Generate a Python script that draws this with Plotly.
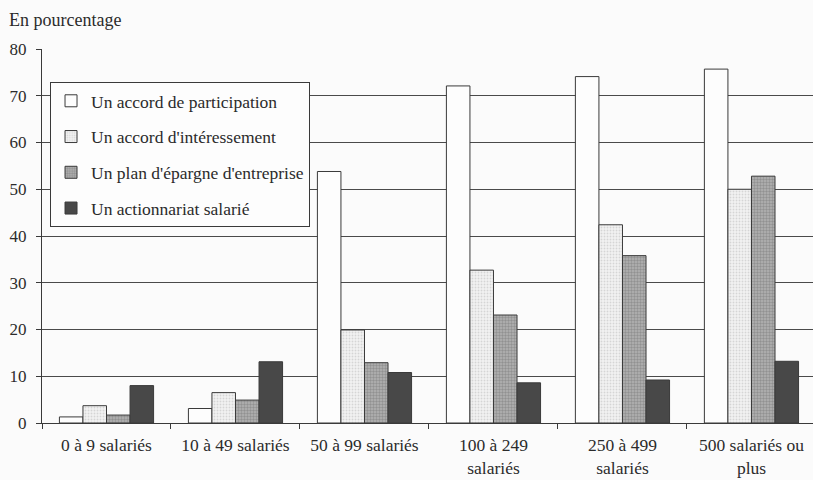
import plotly.graph_objects as go

categories = ["0 à 9 salariés", "10 à 49 salariés", "50 à 99 salariés",
              "100 à 249<br>salariés", "250 à 499<br>salariés", "500 salariés ou<br>plus"]

participation = [1.3, 3.1, 53.8, 72.1, 74.1, 75.7]
interessement = [3.7, 6.5, 19.9, 32.7, 42.4, 50.0]
plan_epargne = [1.7, 4.9, 12.9, 23.1, 35.8, 52.8]
actionnariat = [8.0, 13.1, 10.8, 8.6, 9.2, 13.2]

series_names = ["Un accord de participation", "Un accord d'intéressement",
                "Un plan d'épargne d'entreprise", "Un actionnariat salarié"]
series_values = [participation, interessement, plan_epargne, actionnariat]

FONT = "'Liberation Serif', 'Times New Roman', 'DejaVu Serif', serif"
INK = "#2b2b2b"
BG = "#fbfbfb"

styles = [
    dict(color="#fdfdfd"),
    dict(color="#ececec", pattern=dict(shape=".", fgcolor="#b8b8b8", bgcolor="#f2f2f2", size=3, solidity=0.3)),
    dict(color="#9c9c9c", pattern=dict(shape=".", fgcolor="#6e6e6e", bgcolor="#b4b4b4", size=3, solidity=0.5)),
    dict(color="#484848"),
]

fig = go.Figure()
for i, (name, vals, st) in enumerate(zip(series_names, series_values, styles)):
    fig.add_trace(go.Bar(
        x=categories, y=vals, name=name, legendgroup=f"g{i}",
        marker=dict(line=dict(color="#3a3a3a", width=1), **st),
    ))

fig.update_layout(
    width=813, height=480,
    paper_bgcolor=BG, plot_bgcolor=BG,
    margin=dict(l=42, r=0, t=49, b=57),
    barmode="group", bargap=0.27, bargroupgap=0,
    font=dict(family=FONT, size=18, color=INK),
    showlegend=True,
    legend=dict(
        x=0.0104, y=0.912, xanchor="left", yanchor="top",
        bgcolor="#fdfdfd", bordercolor="#3a3a3a", borderwidth=1,
        font=dict(family=FONT, size=17.5, color=INK),
        tracegroupgap=10, traceorder="grouped", itemwidth=30,
    ),
    xaxis=dict(
        range=[-0.5, 5.477], tickson="boundaries", ticks="outside", ticklen=5,
        tickcolor="#3a3a3a", showline=True, linecolor="#3a3a3a", linewidth=1,
        showgrid=False, ticklabelstandoff=6, automargin=False,
        tickfont=dict(family=FONT, size=17.5, color=INK),
    ),
    yaxis=dict(
        range=[0, 80], dtick=10, ticks="outside", ticklen=5, tickcolor="#3a3a3a",
        showline=True, linecolor="#3a3a3a", linewidth=1,
        showgrid=True, gridcolor="#4a4a4a", gridwidth=1, zeroline=False,
        ticklabelstandoff=6, automargin=False,
        tickfont=dict(family=FONT, size=17, color=INK),
    ),
    annotations=[dict(
        text="En pourcentage", xref="paper", yref="paper",
        x=-0.045, y=1.0, xanchor="left", yanchor="bottom", yshift=17,
        showarrow=False, font=dict(family=FONT, size=18, color=INK),
    )],
)

fig.write_html("out.html")
